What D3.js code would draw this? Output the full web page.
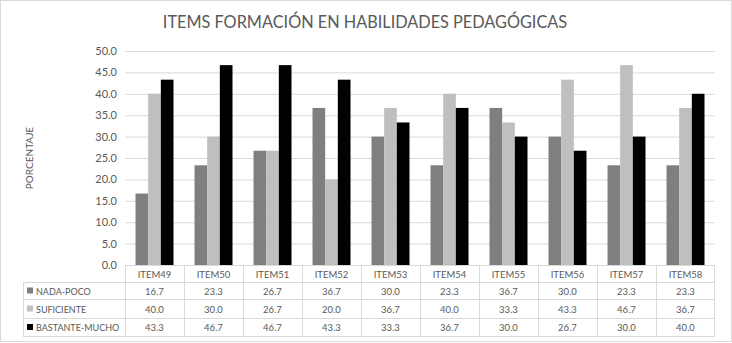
<!DOCTYPE html>
<html>
<head>
<meta charset="utf-8">
<script src="https://cdn.jsdelivr.net/npm/d3@7"></script>
<style>
  body { margin: 0; background: #fff; }
  svg { display: block; font-family: Lato, "Open Sans", sans-serif; }
</style>
</head>
<body>
<svg id="chart"></svg>
<script>
const categories = ["ITEM49", "ITEM50", "ITEM51", "ITEM52", "ITEM53", "ITEM54", "ITEM55", "ITEM56", "ITEM57", "ITEM58"];
const seriesNames = ["NADA-POCO", "SUFICIENTE", "BASTANTE-MUCHO"];
const nadaPoco = [16.7, 23.3, 26.7, 36.7, 30.0, 23.3, 36.7, 30.0, 23.3, 23.3];
const suficiente = [40.0, 30.0, 26.7, 20.0, 36.7, 40.0, 33.3, 43.3, 46.7, 36.7];
const bastanteMucho = [43.3, 46.7, 46.7, 43.3, 33.3, 36.7, 30.0, 26.7, 30.0, 40.0];
const yTicks = [0, 5, 10, 15, 20, 25, 30, 35, 40, 45, 50];

const seriesValues = [nadaPoco, suficiente, bastanteMucho];
const colors = ["#7f7f7f", "#bfbfbf", "#000000"];

const width = 732, height = 343;
const margin = { top: 51, right: 17, bottom: 78, left: 125 };
const tableLeft = 23;
const rowH = [17, 17, 19, 18];

const svg = d3.select("#chart").attr("width", width).attr("height", height);

svg.append("rect")
  .attr("x", 0.5).attr("y", 0.5)
  .attr("width", width - 1).attr("height", height - 2)
  .attr("fill", "#fff").attr("stroke", "#d9d9d9");

const x = d3.scaleBand()
  .domain(categories)
  .range([margin.left, width - margin.right]);

const x1 = d3.scaleBand()
  .domain(seriesNames)
  .range([0, x.bandwidth()])
  .paddingOuter(0.83);

const y = d3.scaleLinear()
  .domain([0, 50])
  .range([height - margin.bottom, margin.top]);

// title
svg.append("text")
  .attr("x", 365).attr("y", 28)
  .attr("text-anchor", "middle")
  .attr("font-size", 16.3)
  .attr("fill", "#595959")
  .text("ITEMS FORMACIÓN EN HABILIDADES PEDAGÓGICAS");

// y label
svg.append("text")
  .attr("transform", `translate(33,${(margin.top + height - margin.bottom) / 2}) rotate(-90)`)
  .attr("text-anchor", "middle")
  .attr("font-size", 10)
  .attr("fill", "#595959")
  .text("PORCENTAJE");

// grid + y axis
const yAxis = svg.append("g")
  .attr("transform", `translate(${margin.left},0)`)
  .call(d3.axisLeft(y).tickValues(yTicks).tickFormat(d3.format(".1f"))
    .tickSize(-(width - margin.left - margin.right)).tickPadding(8));
yAxis.select(".domain").remove();
yAxis.selectAll(".tick line").attr("stroke", "#d9d9d9");
yAxis.selectAll(".tick text").attr("fill", "#595959").attr("font-size", 11)
  .attr("font-family", "Lato, 'Open Sans', sans-serif");

// bars
const groups = svg.append("g")
  .selectAll("g")
  .data(categories)
  .join("g")
  .attr("transform", d => `translate(${x(d)},0)`);

groups.selectAll("rect")
  .data((d, i) => seriesNames.map((s, j) => ({ s, v: seriesValues[j][i], c: colors[j] })))
  .join("rect")
  .attr("x", d => x1(d.s))
  .attr("width", x1.bandwidth())
  .attr("y", d => y(d.v))
  .attr("height", d => y(0) - y(d.v))
  .attr("fill", d => d.c);

// data table
const t0 = height - margin.bottom;
const rowY = [t0];
rowH.forEach(h => rowY.push(rowY[rowY.length - 1] + h));
const tableRight = width - margin.right;
const table = svg.append("g").attr("stroke", "#d9d9d9").attr("fill", "none");

rowY.forEach((yy, i) => {
  table.append("line")
    .attr("x1", i === 0 ? margin.left : tableLeft).attr("x2", tableRight)
    .attr("y1", yy + 0.5).attr("y2", yy + 0.5);
});
table.append("line")
  .attr("x1", tableLeft + 0.5).attr("x2", tableLeft + 0.5)
  .attr("y1", rowY[1]).attr("y2", rowY[4]);
categories.forEach(c => {
  table.append("line")
    .attr("x1", Math.round(x(c)) + 0.5).attr("x2", Math.round(x(c)) + 0.5)
    .attr("y1", t0).attr("y2", rowY[4]);
});
table.append("line")
  .attr("x1", tableRight - 0.5).attr("x2", tableRight - 0.5)
  .attr("y1", t0).attr("y2", rowY[4]);

const txt = svg.append("g").attr("font-size", 9.5).attr("fill", "#595959");

categories.forEach((c, i) => {
  txt.append("text")
    .attr("x", x(c) + x.bandwidth() / 2)
    .attr("y", (rowY[0] + rowY[1]) / 2 + 4)
    .attr("text-anchor", "middle")
    .text(c);
  seriesValues.forEach((vals, j) => {
    txt.append("text")
      .attr("x", x(c) + x.bandwidth() / 2)
      .attr("y", (rowY[j + 1] + rowY[j + 2]) / 2 + 4)
      .attr("text-anchor", "middle")
      .text(d3.format(".1f")(vals[i]));
  });
});

seriesNames.forEach((s, j) => {
  const cy = (rowY[j + 1] + rowY[j + 2]) / 2;
  svg.append("rect")
    .attr("x", 27).attr("y", cy - 3)
    .attr("width", 6).attr("height", 6)
    .attr("fill", colors[j]);
  txt.append("text")
    .attr("x", 36).attr("y", cy + 4)
    .attr("font-size", 9)
    .text(s);
});
</script>
</body>
</html>
